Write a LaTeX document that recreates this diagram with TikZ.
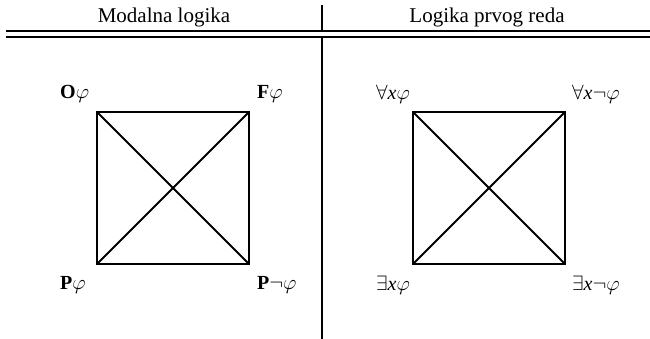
\documentclass[tikz,border=0pt]{standalone}
\usepackage{fontspec}
\setmainfont{Liberation Serif}
\begin{document}
\begin{tikzpicture}[x=1pt,y=-1pt,
  head/.style={font=\fontsize{21}{25}\selectfont, inner sep=0pt},
  lab/.style={font=\fontsize{20}{24}\selectfont, inner sep=0pt},
  sq/.style={line width=2pt},
  rule/.style={line width=1.8pt}]
\useasboundingbox (0,0) rectangle (650,339);
% headers
\node[head] (h1) at (164,17) {Modalna logika};
\node[head] (h2) at (487,17) {Logika prvog reda};
% double rule
\coordinate (r1a) at (6,31);
\coordinate (r1b) at (650,31);
\coordinate (r2a) at (6,37);
\coordinate (r2b) at (650,37);
\draw[line width=2.6pt] (r1a) -- (r1b);
\draw[line width=1.6pt] (r2a) -- (r2b);
% vertical separator
\coordinate (v0) at (322,5);
\coordinate (v1) at (322,31);
\coordinate (v2) at (322,37);
\coordinate (v3) at (322,339);
\draw[rule] (v0) -- (v1);
\draw[rule] (v2) -- (v3);
% left square
\coordinate (a1) at (97,112);
\coordinate (b1) at (249,112);
\coordinate (c1) at (249,264);
\coordinate (d1) at (97,264);
\draw[sq, line join=miter] (a1) -- (b1) -- (c1) -- (d1) -- cycle;
\draw[sq] (a1) -- (c1);
\draw[sq] (b1) -- (d1);
% right square
\coordinate (a2) at (413,112);
\coordinate (b2) at (565,112);
\coordinate (c2) at (565,264);
\coordinate (d2) at (413,264);
\draw[sq, line join=miter] (a2) -- (b2) -- (c2) -- (d2) -- cycle;
\draw[sq] (a2) -- (c2);
\draw[sq] (b2) -- (d2);
% labels left
\node[lab, anchor=west] (O) at (60,94) {$\mathbf{O}\varphi$};
\node[lab, anchor=west] (F) at (257,94) {$\mathbf{F}\varphi$};
\node[lab, anchor=west] (P) at (60,285) {$\mathbf{P}\varphi$};
\node[lab, anchor=west] (Pn) at (257,285) {$\mathbf{P}\neg\varphi$};
% labels right
\node[lab, anchor=west] (A) at (376,94) {$\forall\textit{x}\varphi$};
\node[lab, anchor=west] (An) at (572,94) {$\forall\textit{x}\neg\varphi$};
\node[lab, anchor=west] (E) at (376,285) {$\exists\textit{x}\varphi$};
\node[lab, anchor=west] (En) at (572,285) {$\exists\textit{x}\neg\varphi$};
\end{tikzpicture}
\end{document}
